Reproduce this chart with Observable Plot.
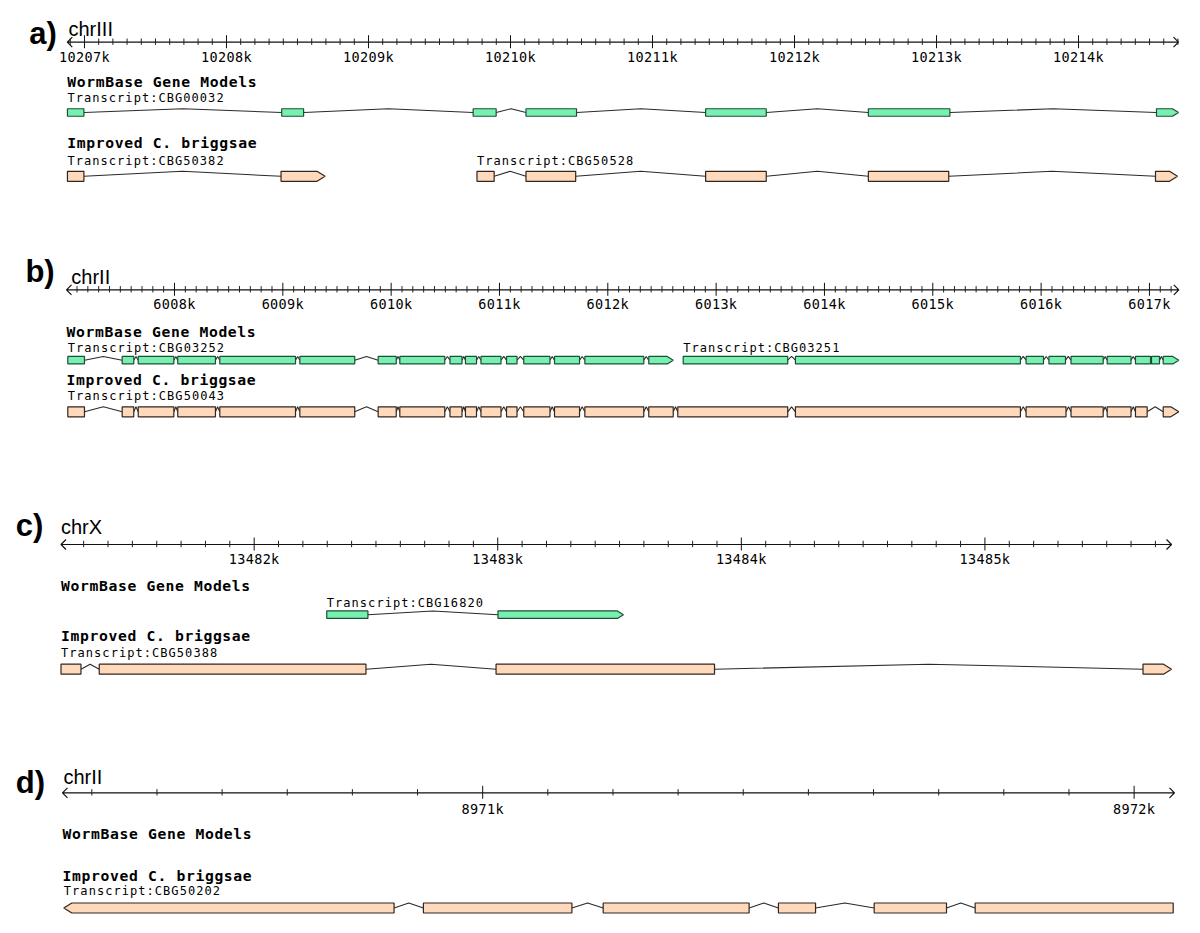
<!DOCTYPE html>
<html>
<head>
<meta charset="utf-8">
<script src="https://cdn.jsdelivr.net/npm/d3@7"></script>
<script src="https://cdn.jsdelivr.net/npm/@observablehq/plot@0.6"></script>
<style>
  html, body { margin: 0; padding: 0; background: #fff; }
  #fig { position: relative; width: 1200px; height: 933px; overflow: hidden; background: #fff; }
  .panel { position: absolute; left: 0; width: 1200px; }
  g[aria-description="title"] { letter-spacing: 0.65px; }
  g[aria-description="label"] { letter-spacing: 1.05px; }
  g[aria-description="ticklabel"] { letter-spacing: 0.35px; }
</style>
</head>
<body>
<div id="fig"></div>
<script>
// ================= DATA (base pairs) =================
// Panel a — chrIII
const chromA = "chrIII";
const domainA = [10206879, 10214704];
const majorA = [10207000, 10208000, 10209000, 10210000, 10211000, 10212000, 10213000, 10214000];
const CBG00032 = [[10206880,10206996],[10208389,10208543],[10209737,10209899],[10210109,10210465],[10211374,10211801],[10212520,10213094],[10214549,10214704]];
const CBG50382 = [[10206880,10206996],[10208384,10208694]];
const CBG50528 = [[10209764,10209885],[10210109,10210459],[10211374,10211801],[10212520,10213086],[10214542,10214697]];

// Panel b — chrII
const chromB = "chrII";
const domainB = [6007003, 6017271];
const majorB = [6008000, 6009000, 6010000, 6011000, 6012000, 6013000, 6014000, 6015000, 6016000, 6017000];
const CBG03252 = [[6007015,6007169],[6007517,6007624],[6007665,6007994],[6008030,6008378],[6008418,6009117],[6009157,6009664],[6009880,6010047],[6010080,6010495],[6010543,6010654],[6010686,6010788],[6010829,6011014],[6011065,6011162],[6011224,6011466],[6011508,6011739],[6011788,6012332],[6012378,6012604]];
const CBG03251 = [[6012696,6013661],[6013732,6015809],[6015861,6016022],[6016072,6016225],[6016276,6016573],[6016610,6016830],[6016871,6017010],[6017019,6017093],[6017127,6017271]];
const CBG50043 = [[6007015,6007169],[6007517,6007624],[6007665,6007994],[6008030,6008378],[6008418,6009117],[6009157,6009664],[6009880,6010047],[6010080,6010495],[6010543,6010654],[6010686,6010788],[6010829,6011014],[6011065,6011162],[6011224,6011466],[6011508,6011739],[6011788,6012332],[6012378,6012604],[6012646,6013661],[6013732,6015809],[6015861,6016230],[6016276,6016573],[6016610,6016830],[6016871,6016979],[6017127,6017271]];

// Panel c — chrX
const chromC = "chrX";
const domainC = [13481207, 13485766];
const majorC = [13482000, 13483000, 13484000, 13485000];
const CBG16820 = [[13482298,13482467],[13483001,13483516]];
const CBG50388 = [[13481207,13481289],[13481364,13482459],[13482993,13483890],[13485649,13485766]];

// Panel d — chrII
const chromD = "chrII";
const domainD = [8970355, 8972062];
const majorD = [8971000, 8972000];
const CBG50202 = [[8970357,8970864],[8970909,8971137],[8971185,8971409],[8971454,8971511],[8971601,8971712],[8971756,8972060]];

const trackNames = ["WormBase Gene Models", "Improved C. briggsae"];

// ================= STYLE / LAYOUT =================
const SANS = "Liberation Sans, Arial, sans-serif";
const MONO = "DejaVu Sans Mono, monospace";
const GREEN = {fill: "#78f0b2", stroke: "#1d4f35", h: 3.75, aw: 6};
const ORANGE = {fill: "#ffd9bb", stroke: "#33261e", h: 5, aw: 8};

const layoutA = {top: 0, height: 240, ml: 66.8, mr: 22, letter: "a)", letterX: 28.7, letterBase: 43.5, chrX: 68, chrBase: 35.5,
  axisY: 41.7, tickBase: 61.7, wbTitle: 86.5, wbLabel: 101.5, wbRow: 112, ibTitle: 147.3, ibLabel: 164.5, ibRow: 175.8};
const layoutB = {top: 240, height: 250, ml: 66, mr: 21.7, letter: "b)", letterX: 24.9, letterBase: 281.7, chrX: 70.8, chrBase: 283.3,
  axisY: 289.3, tickBase: 308.3, wbTitle: 336, wbLabel: 351, wbRow: 359.7, ibTitle: 384.5, ibLabel: 399.5, ibRow: 411.3};
const layoutC = {top: 490, height: 245, ml: 60.5, mr: 29, letter: "c)", letterX: 15.3, letterBase: 535, chrX: 60.5, chrBase: 533.3,
  axisY: 544, tickBase: 563.3, wbTitle: 590.5, wbLabel: 606, wbRow: 614.2, ibTitle: 640.5, ibLabel: 656.5, ibRow: 668.7};
const layoutD = {top: 735, height: 198, ml: 62, mr: 26, letter: "d)", letterX: 15.3, letterBase: 792, chrX: 63, chrBase: 783.3,
  axisY: 792.3, tickBase: 813.3, wbTitle: 838.5, wbLabel: 853, wbRow: 862, ibTitle: 880.5, ibLabel: 894.5, ibRow: 907.5};

const panels = [
  {chrom: chromA, domain: domainA, major: majorA, L: layoutA,
   wb: [{name: "Transcript:CBG00032", strand: 1, exons: CBG00032}],
   ib: [{name: "Transcript:CBG50382", strand: 1, exons: CBG50382}, {name: "Transcript:CBG50528", strand: 1, exons: CBG50528}]},
  {chrom: chromB, domain: domainB, major: majorB, L: layoutB,
   wb: [{name: "Transcript:CBG03252", strand: 1, exons: CBG03252}, {name: "Transcript:CBG03251", strand: 1, exons: CBG03251}],
   ib: [{name: "Transcript:CBG50043", strand: 1, exons: CBG50043}]},
  {chrom: chromC, domain: domainC, major: majorC, L: layoutC,
   wb: [{name: "Transcript:CBG16820", strand: 1, exons: CBG16820}],
   ib: [{name: "Transcript:CBG50388", strand: 1, exons: CBG50388}]},
  {chrom: chromD, domain: domainD, major: majorD, L: layoutD,
   wb: [],
   ib: [{name: "Transcript:CBG50202", strand: -1, exons: CBG50202}]}
];

// ================= custom link "curves" =================
function collector(draw) {
  return (ctx) => {
    let p = [];
    return {
      areaStart() {}, areaEnd() {},
      lineStart() { p = []; },
      point(x, y) { p.push([+x, +y]); },
      lineEnd() { if (p.length >= 2) draw(ctx, p[0], p[p.length - 1]); }
    };
  };
}
const hatCurve = (h) => collector((ctx, [x0, y0], [x1, y1]) => {
  ctx.moveTo(x0, y0); ctx.lineTo((x0 + x1) / 2, y0 - h); ctx.lineTo(x1, y1);
});
const boxCurve = (h, dir, aw) => collector((ctx, [x0, y], [x1]) => {
  const a = Math.min(aw, Math.max(0, x1 - x0));
  if (dir > 0) {
    ctx.moveTo(x0, y - h); ctx.lineTo(x1 - a, y - h); ctx.lineTo(x1, y); ctx.lineTo(x1 - a, y + h); ctx.lineTo(x0, y + h); ctx.closePath();
  } else if (dir < 0) {
    ctx.moveTo(x1, y - h); ctx.lineTo(x0 + a, y - h); ctx.lineTo(x0, y); ctx.lineTo(x0 + a, y + h); ctx.lineTo(x1, y + h); ctx.closePath();
  } else {
    ctx.moveTo(x0, y - h); ctx.lineTo(x1, y - h); ctx.lineTo(x1, y + h); ctx.lineTo(x0, y + h); ctx.closePath();
  }
});
const axisCurve = (w, hh) => collector((ctx, [x0, y0], [x1, y1]) => {
  ctx.moveTo(x0, y0); ctx.lineTo(x1, y1);
  ctx.moveTo(x0 + w, y0 - hh); ctx.lineTo(x0, y0); ctx.lineTo(x0 + w, y0 + hh);
  ctx.moveTo(x1 - w, y1 - hh); ctx.lineTo(x1, y1); ctx.lineTo(x1 - w, y1 + hh);
});

function trackMarks(marks, title, transcripts, titleY, labelY, rowY, col, x0) {
  marks.push(Plot.text([title], {x: x0, y: titleY, text: d => d, textAnchor: "start", lineAnchor: "bottom",
    fontFamily: MONO, fontWeight: "bold", fontSize: 14.7, ariaDescription: "title"}));
  if (!transcripts.length) return;
  marks.push(Plot.text(transcripts, {x: d => d.exons[0][0], y: labelY, text: "name", textAnchor: "start", lineAnchor: "bottom",
    fontFamily: MONO, fontSize: 12, ariaDescription: "label"}));
  const introns = transcripts.flatMap(t => t.exons.slice(1).map((e, i) => ({s: t.exons[i][1], e: e[0]})));
  marks.push(Plot.link(introns, {x1: "s", x2: "e", y1: rowY, y2: rowY, curve: hatCurve(col.h), stroke: "#2a2a2a", strokeWidth: 1.1}));
  const exons = transcripts.flatMap(t => t.exons.map((e, i) => ({
    s: e[0], e: e[1],
    dir: t.strand > 0 && i === t.exons.length - 1 ? 1 : t.strand < 0 && i === 0 ? -1 : 0
  })));
  for (const dir of [0, 1, -1]) {
    marks.push(Plot.link(exons, {filter: d => d.dir === dir, x1: "s", x2: "e", y1: rowY, y2: rowY,
      curve: boxCurve(col.h, dir, col.aw), fill: col.fill, stroke: col.stroke, strokeWidth: 1.2, strokeLinejoin: "miter"}));
  }
}

function drawPanel(p) {
  const L = p.L, domain = p.domain;
  const minor = d3.range(Math.ceil(domain[0] / 100) * 100, domain[1] + 1, 100).filter(v => !p.major.includes(v));
  const marks = [
    Plot.text([L.letter], {frameAnchor: "left", y: L.letterBase, dx: L.letterX - L.ml, text: d => d, textAnchor: "start",
      lineAnchor: "bottom", fontFamily: SANS, fontWeight: "bold", fontSize: 31}),
    Plot.text([p.chrom], {frameAnchor: "left", y: L.chrBase, dx: L.chrX - L.ml, text: d => d, textAnchor: "start",
      lineAnchor: "bottom", fontFamily: SANS, fontSize: 20}),
    Plot.link([domain], {x1: d => d[0], x2: d => d[1], y1: L.axisY, y2: L.axisY, curve: axisCurve(5, 5), stroke: "#111", strokeWidth: 1.2}),
    Plot.ruleX(minor, {x: d => d, y1: L.axisY - 3.2, y2: L.axisY + 3.2, stroke: "#222", strokeWidth: 1}),
    Plot.ruleX(p.major, {x: d => d, y1: L.axisY - 6.5, y2: L.axisY + 6.5, stroke: "#111", strokeWidth: 1}),
    Plot.text(p.major, {x: d => d, y: L.tickBase, text: d => `${d / 1000}k`, lineAnchor: "bottom",
      fontFamily: MONO, fontSize: 13.5, ariaDescription: "ticklabel"})
  ];
  trackMarks(marks, trackNames[0], p.wb, L.wbTitle, L.wbLabel, L.wbRow, GREEN, domain[0]);
  trackMarks(marks, trackNames[1], p.ib, L.ibTitle, L.ibLabel, L.ibRow, ORANGE, domain[0]);
  return Plot.plot({
    width: 1200, height: L.height,
    marginLeft: L.ml, marginRight: L.mr, marginTop: 0, marginBottom: 0,
    x: {domain, axis: null},
    y: {domain: [L.top, L.top + L.height], range: [0, L.height], axis: null},
    style: {background: "#fff", overflow: "visible", color: "#000"},
    marks
  });
}

const fig = document.getElementById("fig");
for (const p of panels) {
  const div = document.createElement("div");
  div.className = "panel";
  div.style.top = p.L.top + "px";
  div.style.height = p.L.height + "px";
  div.appendChild(drawPanel(p));
  fig.appendChild(div);
}
</script>
</body>
</html>
